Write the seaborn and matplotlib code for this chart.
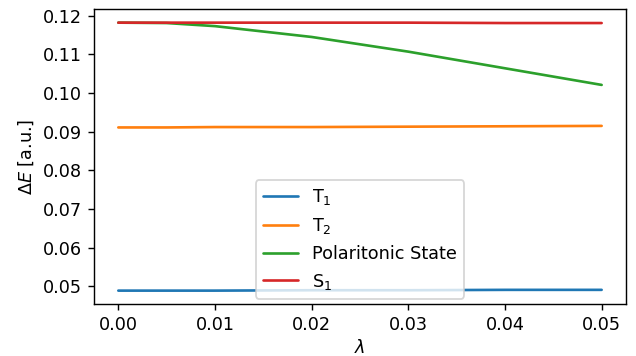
import matplotlib
matplotlib.use("Agg")
import matplotlib.pyplot as plt
import seaborn as sns
import pandas as pd

lam = [0.0, 0.005, 0.01, 0.02, 0.03, 0.04, 0.05]
T1 = [0.0489, 0.0489, 0.0489, 0.0490, 0.0490, 0.0491, 0.0491]
T2 = [0.0911, 0.0911, 0.0912, 0.0912, 0.0913, 0.0914, 0.0915]
polariton = [0.1182, 0.1181, 0.1173, 0.1145, 0.1107, 0.1064, 0.1021]
S1 = [0.1182, 0.1182, 0.1182, 0.1182, 0.1182, 0.1181, 0.1181]
labels = ["T$_1$", "T$_2$", "Polaritonic State", "S$_1$"]

sns.set_style("ticks")
plt.rcParams['font.family'] = ['DejaVu Sans']
plt.rcParams.update({
    "axes.edgecolor": "black", "axes.labelcolor": "black",
    "xtick.color": "black", "ytick.color": "black", "text.color": "black",
    "font.size": 10, "axes.labelsize": 10, "xtick.labelsize": 10,
    "ytick.labelsize": 10, "legend.fontsize": 10,
    "xtick.major.size": 3.5, "ytick.major.size": 3.5,
    "xtick.major.width": 0.8, "ytick.major.width": 0.8, "axes.linewidth": 0.8,
})
colors = sns.color_palette("tab10")[:4]

rows = []
for lab, vals in zip(labels, [T1, T2, polariton, S1]):
    for x, v in zip(lam, vals):
        rows.append({"lam": x, "E": v, "state": lab})
df = pd.DataFrame(rows)

DPI = 127.2
fig, ax = plt.subplots(figsize=(636 / DPI, 356 / DPI), dpi=DPI)
sns.lineplot(data=df, x="lam", y="E", hue="state", hue_order=labels,
             palette=colors, linewidth=1.5, ax=ax)
ax.set_xlabel(r"$\lambda$", labelpad=2.5)
ax.set_ylabel(r"$\Delta E$ [a.u.]")
ax.set_xticks([0.0, 0.01, 0.02, 0.03, 0.04, 0.05])
ax.set_yticks([0.05, 0.06, 0.07, 0.08, 0.09, 0.10, 0.11, 0.12])
ax.legend(loc="lower center", borderaxespad=0.3)
fig.subplots_adjust(left=0.148, right=0.984, top=0.974, bottom=0.146)
fig.savefig("out.png", dpi=DPI)
